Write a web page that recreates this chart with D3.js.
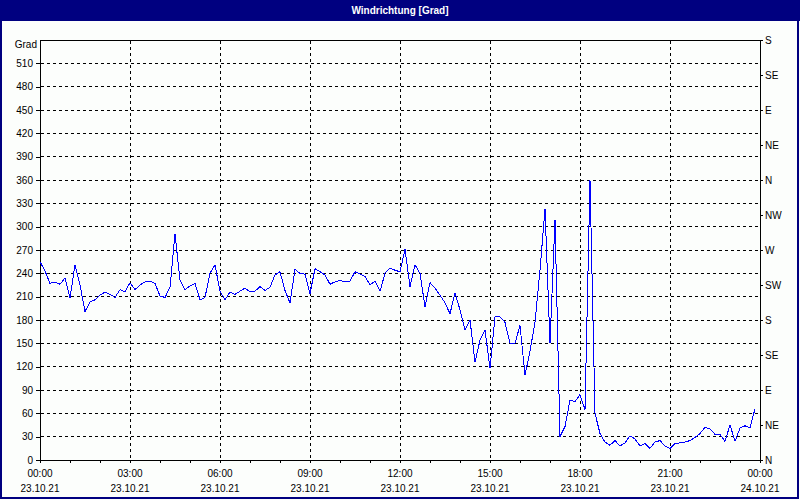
<!DOCTYPE html>
<html>
<head>
<meta charset="utf-8">
<script src="https://d3js.org/d3.v7.min.js"></script>
<style>
body { margin: 0; background: #fcfefc; }
svg { display: block; }
text { font-family: "Liberation Sans", Arial, sans-serif; font-size: 10px; fill: #000; }
.grid line { stroke: #000; stroke-dasharray: 3,3; shape-rendering: crispEdges; }
.axis path, .axis line { stroke: #000; shape-rendering: crispEdges; }
</style>
</head>
<body>
<svg width="800" height="500"></svg>
<script>
// wind direction in degrees, one reading every 10 minutes from 23.10.21 00:00
var startTime = new Date(2021, 9, 23, 0, 0);
var stepMinutes = 10;
var windDir = [
  255, 243, 227, 229, 226, 234, 208, 251, 225, 191, 203, 206,
  212, 216, 213, 209, 219, 216, 228, 219, 225, 229, 230, 227,
  211, 209, 222, 291, 231, 219, 224, 227, 206, 209, 240, 251,
  217, 206, 216, 213, 217, 221, 216, 217, 223, 218, 222, 238,
  242, 218, 202, 245, 240, 239, 214, 246, 242, 238, 226, 229,
  231, 229, 230, 242, 239, 236, 225, 230, 217, 240, 247, 244,
  242, 271, 223, 251, 240, 197, 228, 221, 212, 202, 188, 215,
  193, 167, 180, 126, 154, 167, 118, 184, 184, 177, 150, 150,
  173, 109, 140, 177, 244, 323, 150, 309, 30, 43, 77, 75,
  84, 65, 360, 60, 34, 23, 19, 25, 18, 22, 31, 27,
  18, 21, 15, 23, 25, 18, 15, 21, 22, 23, 25, 29,
  34, 42, 40, 33, 33, 24, 45, 24, 41, 44, 41, 66
];
var gradTicks = [0, 30, 60, 90, 120, 150, 180, 210, 240, 270, 300, 330, 360, 390, 420, 450, 480, 510];
var compassTicks = [0, 45, 90, 135, 180, 225, 270, 315, 360, 405, 450, 495, 540];
var compassLabels = ["N", "NE", "E", "SE", "S", "SW", "W", "NW", "N", "NE", "E", "SE", "S"];
var labelHours = [0, 3, 6, 9, 12, 15, 18, 21, 24];

var title = "Windrichtung [Grad]";
var unitLabel = "Grad";

var svg = d3.select("svg");
var plotL = 40, plotR = 760, plotT = 40, plotB = 460;

var data = windDir.map(function (v, i) {
  return { t: d3.timeMinute.offset(startTime, i * stepMinutes), v: v };
});
var endTime = d3.timeHour.offset(startTime, 24);

var x = d3.scaleTime().domain([startTime, endTime]).range([plotL, plotR]);
var y = d3.scaleLinear().domain([0, 540]).range([plotB, plotT]);

// frame + title bar
svg.append("rect").attr("x", 1).attr("y", 1).attr("width", 797).attr("height", 497)
  .attr("fill", "#fcfefc").attr("stroke", "#000080").attr("stroke-width", 2);
svg.append("rect").attr("x", 0).attr("y", 0).attr("width", 800).attr("height", 21).attr("fill", "#000080");
svg.append("text").attr("x", 400).attr("y", 14).attr("text-anchor", "middle")
  .style("fill", "#fff").style("font-weight", "bold").style("font-size", "10px").text(title);

// grid
var grid = svg.append("g").attr("class", "grid");
grid.selectAll("line.h").data(gradTicks.filter(function (d) { return d > 0; }))
  .enter().append("line").attr("class", "h")
  .attr("x1", plotL + 1).attr("x2", plotR).attr("y1", function (d) { return y(d); }).attr("y2", function (d) { return y(d); });
grid.selectAll("line.v").data(labelHours.filter(function (h) { return h > 0 && h < 24; }))
  .enter().append("line").attr("class", "v")
  .attr("x1", function (h) { return x(d3.timeHour.offset(startTime, h)); })
  .attr("x2", function (h) { return x(d3.timeHour.offset(startTime, h)); })
  .attr("y1", plotT + 1).attr("y2", plotB);

// top border line
svg.append("line").attr("x1", plotL).attr("x2", plotR).attr("y1", plotT).attr("y2", plotT)
  .attr("stroke", "#000").style("shape-rendering", "crispEdges");

// left axis
svg.append("g").attr("class", "axis").attr("transform", "translate(" + plotL + ",0)")
  .call(d3.axisLeft(y).tickValues(gradTicks).tickSize(4).tickSizeOuter(0).tickPadding(3));
svg.append("text").attr("x", 37).attr("y", 48).attr("text-anchor", "end").text(unitLabel);

// right axis (compass)
svg.append("g").attr("class", "axis").attr("transform", "translate(" + plotR + ",0)")
  .call(d3.axisRight(y).tickValues(compassTicks).tickSize(3).tickSizeOuter(0).tickPadding(2)
    .tickFormat(function (d, i) { return compassLabels[i]; }));

// bottom axis, ticks every hour, labels every 3 hours
svg.append("g").attr("class", "axis").attr("transform", "translate(0," + plotB + ")")
  .call(d3.axisBottom(x).ticks(d3.timeHour.every(1)).tickSize(3).tickSizeOuter(0).tickFormat(""));
var fmtTime = d3.timeFormat("%H:%M"), fmtDate = d3.timeFormat("%d.%m.%y");
svg.selectAll("text.xl").data(labelHours).enter().append("text").attr("class", "xl")
  .attr("text-anchor", "middle")
  .attr("x", function (h) { return x(d3.timeHour.offset(startTime, h)); })
  .attr("y", 477)
  .text(function (h) { return fmtTime(d3.timeHour.offset(startTime, h)); });
svg.selectAll("text.xd").data(labelHours).enter().append("text").attr("class", "xd")
  .attr("text-anchor", "middle")
  .attr("x", function (h) { return x(d3.timeHour.offset(startTime, h)); })
  .attr("y", 492)
  .text(function (h) { return fmtDate(d3.timeHour.offset(startTime, h)); });

// data line
var line = d3.line().x(function (d) { return x(d.t); }).y(function (d) { return y(d.v); });
svg.append("path").datum(data).attr("d", line)
  .attr("fill", "none").attr("stroke", "#0000ff").attr("stroke-width", 1)
  .style("shape-rendering", "crispEdges");
</script>
</body>
</html>
